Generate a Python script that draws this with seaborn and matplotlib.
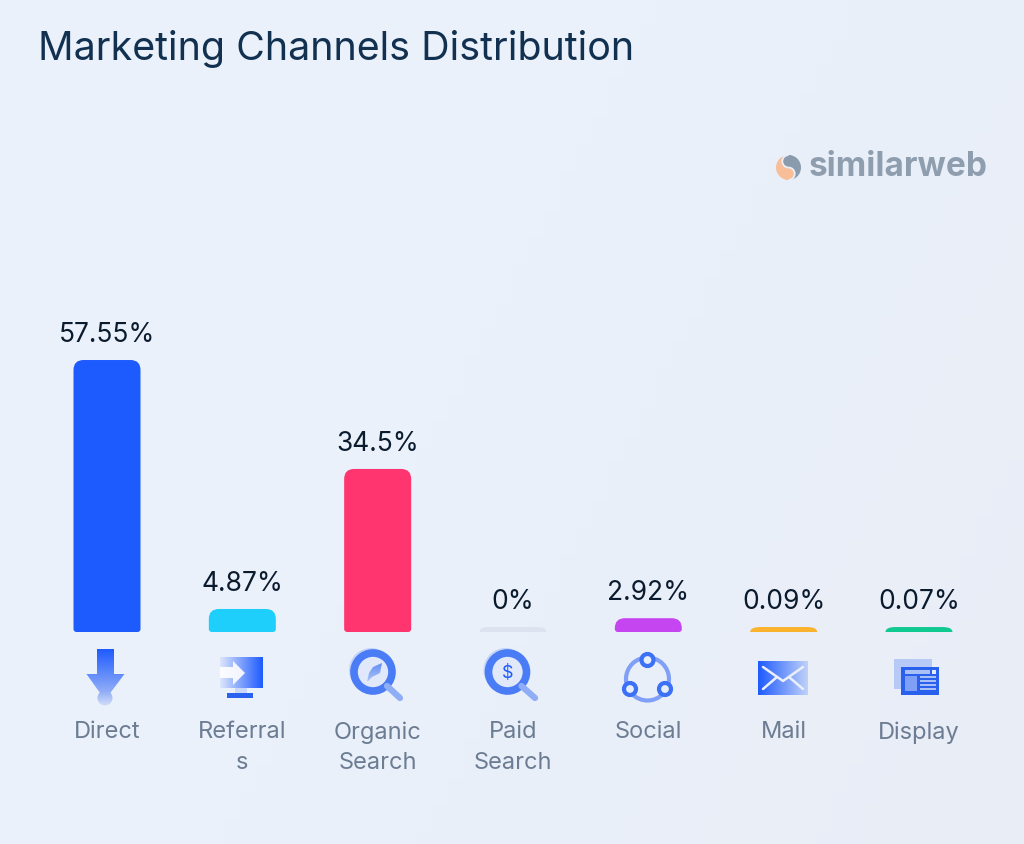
import numpy as np
import pandas as pd
import seaborn as sns
import matplotlib.pyplot as plt
from matplotlib.colors import to_rgb
from matplotlib.patches import Arc, Circle, PathPatch, Polygon, Rectangle, Wedge
from matplotlib.path import Path

# Data
channels = ["Direct", "Referral\ns", "Organic\nSearch", "Paid\nSearch", "Social", "Mail", "Display"]
value_labels = ["57.55%", "4.87%", "34.5%", "0%", "2.92%", "0.09%", "0.07%"]
# tiny channels get a small stub bar in the original, so 0 - 0.09 all draw at about 1
bar_heights = [57.55, 4.87, 34.5, 1.05, 2.92, 1.05, 1.05]
bar_colors = ["#1E5BFF", "#1FCFFB", "#FF356F", "#DDE3EE", "#C545F0", "#FBB32E", "#10C990"]

BLUE = "#1F5BFF"
PAPER = "#EAF0FA"
FONT = "Inter"

W, H = 1024, 845
sns.set_theme(style="white")
plt.rcParams["font.family"] = [FONT, "DejaVu Sans"]

fig = plt.figure(figsize=(W / 100, H / 100), dpi=100)

# background
bg = fig.add_axes([0, 0, 1, 1], zorder=0)
gx, gy = np.meshgrid(np.linspace(0, 1, 64), np.linspace(0, 1, 64))
t = np.clip((gx * 0.7 + gy * 0.3 - 0.45) / 0.55, 0, 1)[..., None]
bg.imshow(np.array(to_rgb("#EAF1FB")) * (1 - t) + np.array(to_rgb("#E9EDF6")) * t, aspect="auto")
bg.axis("off")

# bars
step = 135.33
x0 = 107
ppu = 4.726
ax = fig.add_axes([0, (H - 633) / H, 1, 532 / H], zorder=1)
ax.patch.set_alpha(0)
tabela = pd.DataFrame({"canal": channels, "altura": bar_heights})
sns.barplot(data=tabela, x="canal", y="altura", hue="canal", palette=bar_colors,
            legend=False, width=67 / step, saturation=1, ax=ax)
ax.set_xlim(-x0 / step, (W - x0) / step)
ax.set_ylim(0, 532 / ppu)
ax.set_xlabel("")
ax.set_ylabel("")
ax.set_yticks([])
sns.despine(ax=ax, left=True, bottom=True)
ax.tick_params(axis="x", length=0, pad=63.5, labelsize=17, labelcolor="#6C7C92")
for lab in ax.get_xticklabels():
    lab.set_linespacing(1.5)


def bar_redondo(bar, top_px=10, low_px=3):
    # same rectangle seaborn worked out, with rounded corners
    xa, xb = bar.get_x(), bar.get_x() + bar.get_width()
    h = bar.get_height()
    rx = top_px / step
    ry = min(top_px / ppu, h)
    lx = low_px / step if h * ppu > 10 else 0
    ly = low_px / ppu if h * ppu > 10 else 0
    verts = [(xa + lx, 0), (xb - lx, 0), (xb, 0), (xb, ly), (xb, h - ry), (xb, h), (xb - rx, h),
             (xa + rx, h), (xa, h), (xa, h - ry), (xa, ly), (xa, 0), (xa + lx, 0), (xa + lx, 0)]
    codes = [Path.MOVETO, Path.LINETO, Path.CURVE3, Path.CURVE3, Path.LINETO, Path.CURVE3, Path.CURVE3,
             Path.LINETO, Path.CURVE3, Path.CURVE3, Path.LINETO, Path.CURVE3, Path.CURVE3, Path.CLOSEPOLY]
    return PathPatch(Path(verts, codes), facecolor=bar.get_facecolor(), lw=0, transform=ax.transData)


for bar in list(ax.patches):
    ax.add_patch(bar_redondo(bar))
    bar.set_visible(False)

for cont, lab in zip(ax.containers, value_labels):
    ax.bar_label(cont, labels=[lab], padding=9.5, fontsize=19, color="#0B1B2E")

# overlay in pixel coordinates, for title, logo and icons
ov = fig.add_axes([0, 0, 1, 1], zorder=2)
ov.patch.set_alpha(0)
ov.axis("off")


def grad(x1, y1, x2, y2, c1, c2, clip, horizontal=False, z=0.5):
    ramp = np.linspace(0, 1, 64)
    ramp = ramp[None, :, None] if horizontal else ramp[:, None, None]
    img = np.array(to_rgb(c1)) * (1 - ramp) + np.array(to_rgb(c2)) * ramp
    im = ov.imshow(img, extent=(x1, x2, y2, y1), aspect="auto", zorder=z)
    clip.set_transform(ov.transData)
    im.set_clip_path(clip)


ov.text(38, 60, "Marketing Channels Distribution", fontsize=28.35, color="#12304F")

# logo
cx, cy = 788.5, 168.5
ov.add_patch(Wedge((cx, cy), 12.5, 90, 270, color="#F7BE98", lw=0))
ov.add_patch(Wedge((cx, cy), 12.5, 270, 90, color="#8A9BAE", lw=0))
ov.add_patch(Circle((cx, cy - 6.2), 6.2, color="#8A9BAE", lw=0))
ov.add_patch(Circle((cx, cy + 6.2), 6.2, color="#F7BE98", lw=0))
ov.add_patch(Arc((cx, cy - 6.2), 12.4, 12.4, theta1=90, theta2=270, color=PAPER, lw=1.3))
ov.add_patch(Arc((cx, cy + 6.2), 12.4, 12.4, theta1=-90, theta2=90, color=PAPER, lw=1.3))
ov.text(809, 176, "similarweb", fontsize=24, fontweight="bold", color="#8F9EAF")

# Direct
grad(86, 650, 125, 702, BLUE, "#A9BFF6",
     Polygon([(97, 650), (114, 650), (114, 675), (124.5, 675), (105, 701), (86.5, 675), (97, 675)]))
grad(97, 692, 113, 707, "#8FACF5", "#D3DFFA", Circle((105, 699), 7.5))

# Referrals
grad(220, 658, 263, 689, "#DCE6FB", BLUE, Rectangle((220, 658), 43, 31), horizontal=True)
ov.add_patch(Rectangle((235, 689), 12, 6, color="#C9D7F8", lw=0))
ov.add_patch(Rectangle((227, 694), 26, 5, color="#2A62F0", lw=0))
ov.add_patch(Polygon([(220, 668), (233, 668), (233, 662), (245, 674), (233, 686), (233, 679), (220, 679)],
                     color="white", alpha=0.9, lw=0))


def lupa(lx, ly, tx, ty):
    ov.plot([lx + 14, tx], [ly + 14, ty], color="#8FAEF5", lw=4.5, solid_capstyle="round")
    ov.add_patch(Circle((lx - 2, ly - 2), 22, color="#C4D4F8", lw=0))
    ov.add_patch(Circle((lx, ly), 19, facecolor="#E0E8FA", edgecolor="#4A7CF6", lw=5.5))


# Organic Search
lupa(373, 673, 400, 699)
grad(366, 663, 383, 682, "#5F8BF5", "#A9C2F7",
     Polygon([(382, 664), (380, 674), (372, 678), (367, 683), (369, 674), (373, 668)]), z=3)

# Paid Search
lupa(507.5, 673, 535, 699)
ov.text(507.5, 674, "$", fontsize=13, color=BLUE, ha="center", va="center")

# Social
ov.add_patch(Circle((647.5, 680), 21.5, fill=False, edgecolor="#7FA0F6", lw=3))
for nx, ny in [(647.5, 661), (630, 690), (665, 690)]:
    ov.add_patch(Circle((nx, ny), 6, facecolor="#E6EDFB", edgecolor="#3C70F5", lw=3))

# Mail
grad(758, 662, 808, 696, BLUE, "#C0D1F8", Rectangle((758, 662), 50, 34), horizontal=True)
ov.plot([763, 783, 803], [668, 682, 668], color="#EAF0FB", lw=1.8)
ov.plot([763, 777], [690, 678], color="#EAF0FB", lw=1.8)
ov.plot([803, 789], [690, 678], color="#EAF0FB", lw=1.8)

# Display
ov.add_patch(Rectangle((894, 660), 38, 30, color="#B7C9F6", lw=0))
ov.add_patch(Rectangle((901, 668), 38, 28, color="#2A60EE", lw=0))
ov.add_patch(Rectangle((905, 671), 25, 3.5, color="#A9C0F7", lw=0))
ov.add_patch(Rectangle((932, 671), 3.5, 3.5, color="#E4ECFC", lw=0))
ov.add_patch(Rectangle((905, 677), 12, 15, color="#7FA0F6", lw=0))
for ly in [677, 681, 685, 689]:
    ov.add_patch(Rectangle((920, ly), 15.5, 2.2, color="#A9C0F7", lw=0))

ov.set_xlim(0, W)
ov.set_ylim(H, 0)

fig.savefig("out.png", dpi=100, facecolor=PAPER)
